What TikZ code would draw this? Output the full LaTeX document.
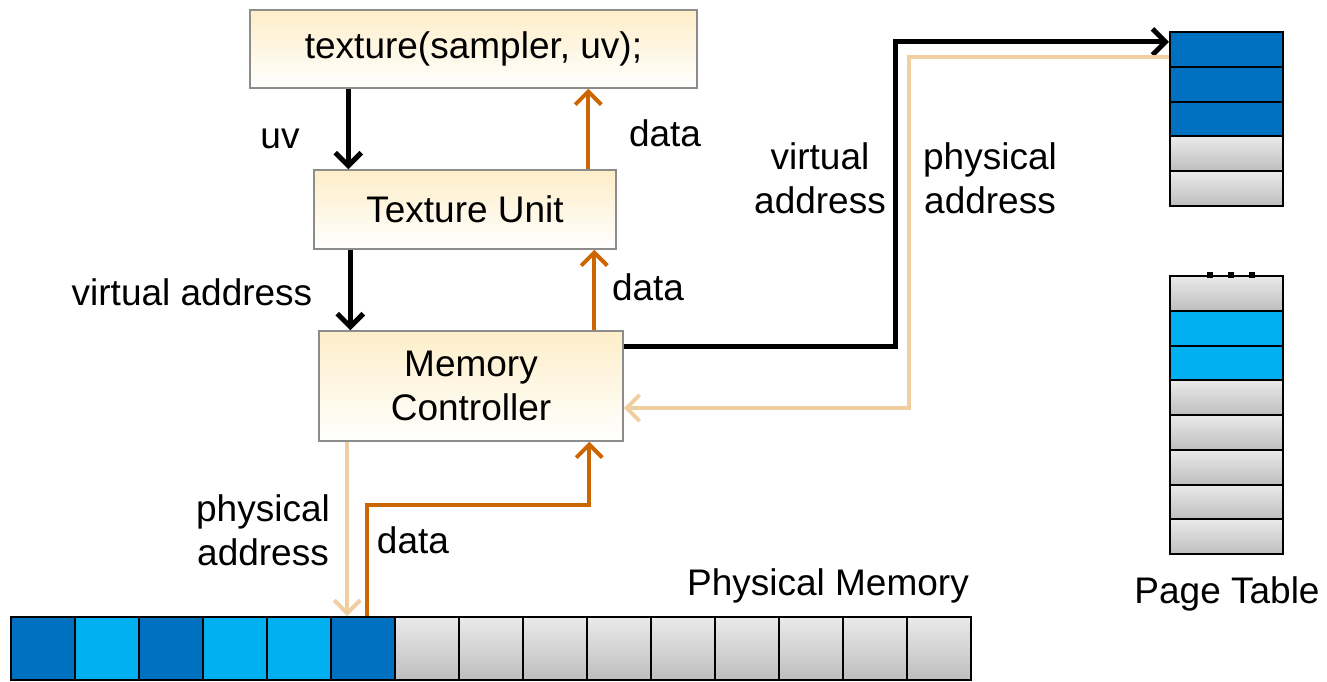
\documentclass[tikz,border=0pt]{standalone}
\usepackage{fontspec}
\setmainfont{Liberation Sans}
\usetikzlibrary{arrows.meta}
\definecolor{dblue}{RGB}{0,112,192}
\definecolor{lblue}{RGB}{0,176,240}
\definecolor{orng}{RGB}{204,102,0}
\definecolor{beig}{RGB}{240,206,160}
\definecolor{boxtop}{RGB}{253,238,200}
\definecolor{boxline}{RGB}{140,140,140}
\definecolor{gtop}{RGB}{234,234,234}
\definecolor{gbot}{RGB}{190,190,190}
\tikzset{
  lbl/.style={font=\fontsize{37}{44}\selectfont, inner sep=0pt, align=center},
  unitbox/.style={draw=boxline, line width=1.5pt, top color=boxtop, bottom color=white,
    font=\fontsize{37}{44}\selectfont, align=center, inner sep=0pt},
  cell/.style={draw=black, line width=2pt, inner sep=0pt},
  gcell/.style={cell, top color=gtop, bottom color=gbot},
  dcell/.style={cell, fill=dblue},
  lcell/.style={cell, fill=lblue},
  tip/.style={-{Straight Barb[length=13pt,width=26pt]}},
  blk/.style={tip, line width=5pt, black},
  org/.style={tip, line width=4pt, orng},
  bge/.style={tip, line width=4pt, beig},
}
\begin{document}
\begin{tikzpicture}[x=1pt,y=-1pt]
\useasboundingbox (0,0) rectangle (1327,682);
% boxes
\node[unitbox, minimum width=447pt, minimum height=78pt] (tex) at (473.5,49) {texture(sampler, uv);};
\node[unitbox, minimum width=302pt, minimum height=79pt] (tu) at (465,209.5) {Texture Unit};
\node[unitbox, minimum width=304pt, minimum height=110pt] (mc) at (471,386) {Memory\\Controller};
% physical memory
\foreach \i/\s in {1/dcell,2/lcell,3/dcell,4/lcell,5/lcell,6/dcell,7/gcell,8/gcell,9/gcell,10/gcell,11/gcell,12/gcell,13/gcell,14/gcell,15/gcell}{
  \node[\s, minimum width=64pt, minimum height=63pt] (m\i) at ({11+64*(\i-1)+32},648.5) {};
}
% page table top
\foreach \i/\s in {1/dcell,2/dcell,3/dcell,4/gcell,5/gcell}{
  \node[\s, minimum width=113pt, minimum height=34.8pt] (pt\i) at (1226.5,{32+34.8*(\i-1)+17.4}) {};
}
% page table bottom
\foreach \i/\s in {1/gcell,2/lcell,3/lcell,4/gcell,5/gcell,6/gcell,7/gcell,8/gcell}{
  \node[\s, minimum width=113pt, minimum height=34.75pt] (pb\i) at (1226.5,{276+34.75*(\i-1)+17.375}) {};
}
\foreach \dx in {-14,7,28}{
  \fill[black] ([xshift=\dx pt]pb1.north west) ++(51.5,-3) rectangle ++(6,6);
}
% labels
\node[lbl] (l1) at (280,139) {uv};
\node[lbl] (l2) at (665,133) {data};
\node[lbl] (l3) at (192,292) {virtual address};
\node[lbl] (l4) at (648,287) {data};
\node[lbl] (l5) at (820,178) {virtual\\address};
\node[lbl] (l6) at (990,178) {physical\\address};
\node[lbl] (l7) at (263,530) {physical\\address};
\node[lbl] (l8) at (413,540) {data};
\node[lbl] (l9) at (828,586) {Physical Memory};
\node[lbl] (l10) at (1227,594) {Page Table};
% vertical arrows
\coordinate (a1) at ([xshift=99pt]tex.south west);
\draw[blk] (a1) -- (a1 |- tu.north);
\coordinate (a2) at ([xshift=275pt]tu.north west);
\draw[org] (a2) -- (a2 |- tex.south);
\coordinate (a3) at ([xshift=37pt]tu.south west);
\draw[blk] (a3) -- (a3 |- mc.north);
\coordinate (a4) at ([xshift=276pt]mc.north west);
\draw[org] (a4) -- (a4 |- tu.south);
% to page table
\draw[blk, line join=miter] ([yshift=-16pt]mc.north east) -- ++(272,0) |- ([yshift=7.5pt]pt1.west);
\draw[bge, line join=miter] ([yshift=-7.5pt]pt1.west) -- ++(-260,0) |- ([yshift=-22pt]mc.east);
% to memory
\coordinate (a5) at ([xshift=29pt]mc.south west);
\draw[bge] (a5) -- (a5 |- m6.north);
\draw[org, line join=miter] ([xshift=4pt]m6.north) -- ++(0,-111) -| ([xshift=271pt]mc.south west);
\end{tikzpicture}
\end{document}
